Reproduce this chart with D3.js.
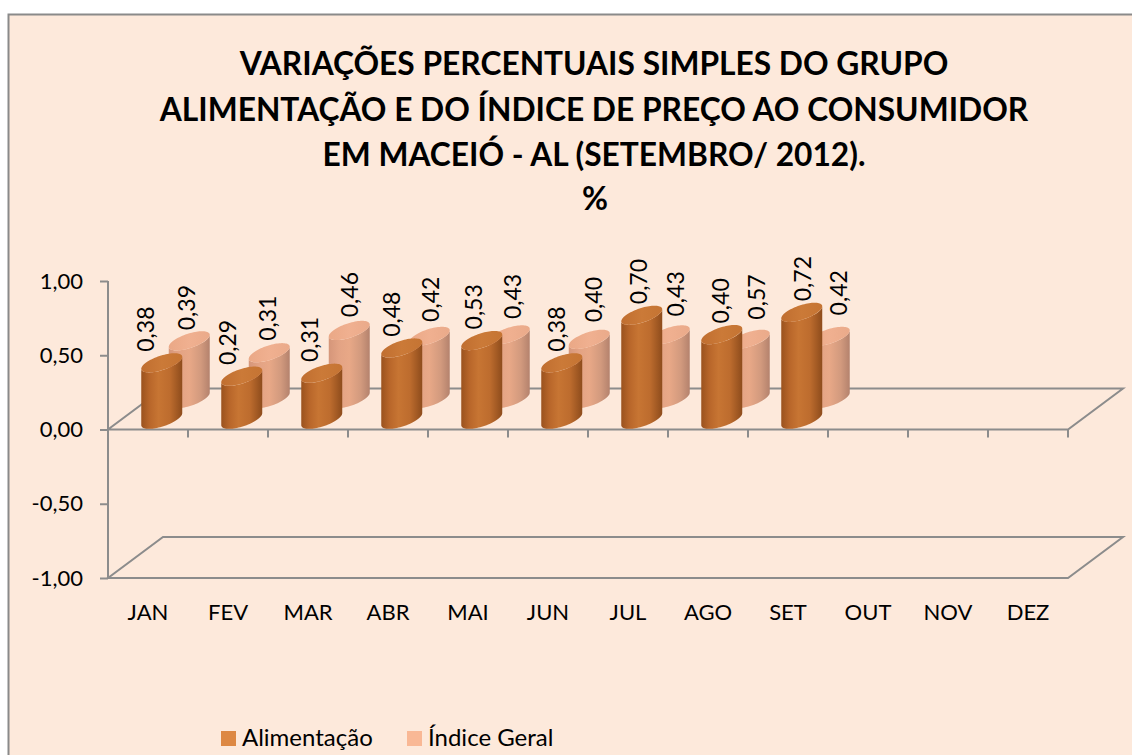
<!DOCTYPE html>
<html><head><meta charset="utf-8">
<script src="https://cdn.jsdelivr.net/npm/d3@7"></script>
<style>
html,body{margin:0;padding:0;background:#fff;}
svg{display:block;font-family:Lato,'Open Sans',sans-serif;}
</style>
</head><body>
<svg id="c" width="1132" height="755"></svg>
<script>
// ---------- data ----------
const months = ["JAN","FEV","MAR","ABR","MAI","JUN","JUL","AGO","SET","OUT","NOV","DEZ"];
const alimentacao = [0.38,0.29,0.31,0.48,0.53,0.38,0.70,0.57,0.72];
const indiceGeral = [0.39,0.31,0.46,0.42,0.43,0.40,0.43,0.40,0.42];
const alimentacaoLabels = ["0,38","0,29","0,31","0,48","0,53","0,38","0,70","0,40","0,72"];
const indiceGeralLabels = ["0,39","0,31","0,46","0,42","0,43","0,40","0,43","0,57","0,42"];
const yTicks = [-1,-0.5,0,0.5,1];
const seriesNames = ["Alimentação","Índice Geral"];
const titleLines = ["VARIAÇÕES PERCENTUAIS SIMPLES DO GRUPO",
                    "ALIMENTAÇÃO E DO ÍNDICE DE PREÇO AO CONSUMIDOR",
                    "EM MACEIÓ - AL (SETEMBRO/ 2012)."];
const unitLabel = "%";

// ---------- setup ----------
const svg = d3.select("#c");
const W = 1132, H = 755;
const locale = d3.formatLocale({decimal:",",thousands:".",grouping:[3],currency:["R$",""],minus:"-"});
const fmt = locale.format(".2f");

const x = d3.scaleBand().domain(months).range([108,1068]).padding(0);
const y = d3.scaleLinear().domain([-1,1]).range([578,281]);
const DX = 55, DY = -41;         // full depth offset
const R = 16;                     // cylinder radius
const depthOf = [0.25, 0.75];     // series row depths

// frame
svg.append("rect").attr("x",8.5).attr("y",14.5).attr("width",W+20).attr("height",H+20)
  .attr("fill","#FDE9DB").attr("stroke","#8a8a8a").attr("stroke-width",2);

// gradients
const defs = svg.append("defs");
function grad(id, stops){
  const g = defs.append("linearGradient").attr("id",id).attr("x1",0).attr("x2",1).attr("y1",0).attr("y2",0);
  stops.forEach(s=>g.append("stop").attr("offset",s[0]).attr("stop-color",s[1]));
}
grad("gA",[[0,"#9a521e"],[0.2,"#b8662a"],[0.42,"#c77533"],[0.7,"#bd6c2e"],[1,"#8e4c1c"]]);
grad("gI",[[0,"#d5967a"],[0.25,"#e3a384"],[0.5,"#e8a887"],[0.78,"#d29a7e"],[1,"#b4826d"]]);
grad("tA",[[0,"#c06e30"],[0.5,"#cb7a38"],[1,"#c57433"]]);
grad("tI",[[0,"#eaa886"],[0.5,"#f0b090"],[1,"#eaaa8a"]]);

const lineCol = "#8c8c8c";
const plane = svg.append("g").attr("fill","none").attr("stroke",lineCol).attr("stroke-width",2);
function planeAt(v){
  const yy = y(v);
  const x0 = x.range()[0], x1 = x.range()[1];
  return `M${x0},${yy}L${x1},${yy}L${x1+DX},${yy+DY}L${x0+DX},${yy+DY}Z`;
}
plane.append("path").attr("d",planeAt(-1));
plane.append("path").attr("d",planeAt(0));

// y axis
const yAxis = svg.append("g").attr("transform","translate(108,0)")
  .call(d3.axisLeft(y).tickValues(yTicks).tickFormat(fmt).tickSize(8).tickPadding(17));
yAxis.select(".domain").attr("stroke",lineCol).attr("stroke-width",2).attr("d",`M0,${y(1)}V${y(-1)}`);
yAxis.selectAll(".tick line").attr("stroke",lineCol).attr("stroke-width",2);
yAxis.selectAll(".tick text").attr("font-size",22).attr("font-family","Lato").attr("fill","#000");

// category ticks on the zero line
svg.append("g").selectAll("line").data(months).join("line")
  .attr("x1",d=>x(d)+x.bandwidth()).attr("x2",d=>x(d)+x.bandwidth())
  .attr("y1",y(0)).attr("y2",y(0)+8).attr("stroke",lineCol).attr("stroke-width",2);

// category labels
const xAxis = svg.append("g").attr("transform","translate(0,600)")
  .call(d3.axisBottom(x).tickSize(0).tickPadding(0));
xAxis.select(".domain").remove();
xAxis.selectAll(".tick text").attr("dy",null).attr("y",20).attr("font-size",22)
  .attr("font-family","Lato").attr("fill","#000");

// ---------- cylinders ----------
const t0 = Math.atan2(0.8,1);
function ep(cx,cy,t){ return [cx + R*Math.cos(t) + 0.8*R*Math.sin(t), cy - 0.6*R*Math.sin(t)]; }
function arc(cx,cy,ta,tb,n){ const p=[]; for(let i=0;i<=n;i++){ p.push(ep(cx,cy,ta+(tb-ta)*i/n)); } return p; }
function bodyPath(cx,cyB,cyT){
  const pts = [].concat(arc(cx,cyB,t0+Math.PI,t0+2*Math.PI,40), arc(cx,cyT,t0+2*Math.PI,t0+Math.PI,40));
  return "M"+pts.map(p=>p[0].toFixed(2)+","+p[1].toFixed(2)).join("L")+"Z";
}
function topPath(cx,cyT){
  const pts = arc(cx,cyT,0,2*Math.PI,80);
  return "M"+pts.map(p=>p[0].toFixed(2)+","+p[1].toFixed(2)).join("L")+"Z";
}

const series = [
  {vals:alimentacao, labels:alimentacaoLabels, body:"url(#gA)", top:"url(#tA)", d:depthOf[0]},
  {vals:indiceGeral, labels:indiceGeralLabels, body:"url(#gI)", top:"url(#tI)", d:depthOf[1]}
];
function geom(s,v,i){
  const cx = x(months[i]) + x.bandwidth()/2 + DX*s.d;
  const cyB = y(0) + DY*s.d;
  const cyT = y(v) + DY*s.d;
  return {cx,cyB,cyT};
}
const bars = svg.append("g");
[series[1],series[0]].forEach(s=>{
  const g = bars.append("g");
  s.vals.forEach((v,i)=>{
    const q = geom(s,v,i);
    g.append("path").attr("d",bodyPath(q.cx,q.cyB,q.cyT)).attr("fill",s.body);
    g.append("path").attr("d",topPath(q.cx,q.cyT)).attr("fill",s.top);
  });
});

// data labels
const lab = svg.append("g").attr("font-size",23).attr("font-family","Lato").attr("fill","#000");
series.forEach((s,si)=>{
  s.vals.forEach((v,i)=>{
    const q = geom(s,v,i);
    const topmost = q.cyT - 0.6*R;
    const lx = si===0 ? q.cx - 16 + 2.1*i : q.cx - 3 + 1.5*i;
    const ly = si===0 ? topmost - 1.5 : topmost - 1 - 1.3*i;
    lab.append("text").attr("transform",`translate(${lx},${ly}) rotate(-90)`)
      .attr("dy","0.36em").attr("text-anchor","start").text(s.labels[i]);
  });
});

// ---------- title ----------
const tg = svg.append("g").attr("font-weight",700).attr("font-family","Lato").attr("fill","#000").attr("text-anchor","middle");
const probe = tg.append("text").attr("font-size",100).text(titleLines[0]);
const w100 = probe.node().getComputedTextLength();
probe.remove();
const tfs = 100*709/w100;
const baselines = [75,121,166];
const tcx = 594;
titleLines.forEach((t,i)=>{
  tg.append("text").attr("x",tcx).attr("y",baselines[i]).attr("font-size",tfs).text(t);
});
tg.append("text").attr("x",595).attr("y",210).attr("font-size",tfs).text(unitLabel);

// ---------- legend ----------
const legendColors = ["#DD8843","#F9B895"];
const legendX = [221,407];
const lg = svg.append("g").attr("font-family","Lato").attr("font-size",24);
seriesNames.forEach((n,i)=>{
  lg.append("rect").attr("x",legendX[i]).attr("y",731).attr("width",15).attr("height",15).attr("fill",legendColors[i]);
  lg.append("text").attr("x",legendX[i]+21).attr("y",746).text(n);
});
</script>
</body></html>
